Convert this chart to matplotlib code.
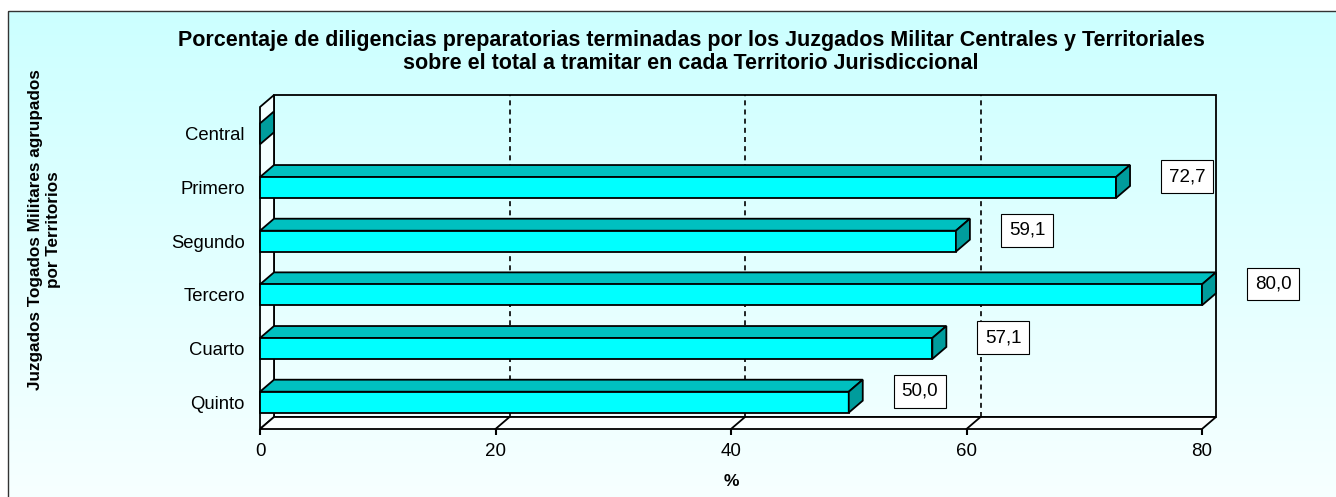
import numpy as np
import matplotlib
matplotlib.use("Agg")
import matplotlib.pyplot as plt
from matplotlib.patches import Polygon, Rectangle

plt.rcParams['font.family'] = ['Liberation Sans', 'DejaVu Sans']

categories = ["Central", "Primero", "Segundo", "Tercero", "Cuarto", "Quinto"]
values = [0.0, 72.7, 59.1, 80.0, 57.1, 50.0]
labels = [None, "72,7", "59,1", "80,0", "57,1", "50,0"]
xticks = [0, 20, 40, 60, 80]

title = ("Porcentaje de diligencias preparatorias terminadas por los Juzgados Militar Centrales y Territoriales\n"
         "sobre el total a tramitar en cada Territorio Jurisdiccional")
ylabel = "Juzgados Togados Militares agrupados\npor Territorios"
xlabel = "%"

W, H = 1336, 497
fig = plt.figure(figsize=(W / 100, H / 100), dpi=100)
fig.patch.set_facecolor('white')

# background panel with gradient and frame
bg = fig.add_axes([0, 0, 1, 1], zorder=-5)
bg.axis('off')
grad = np.linspace(0, 1, 256).reshape(-1, 1)
c_top = np.array([0.80, 1.0, 1.0])
c_bot = np.array([0.97, 1.0, 1.0])
img = c_top[None, None, :] * (1 - grad[:, :, None]) + c_bot[None, None, :] * grad[:, :, None]
bg.imshow(img, extent=[8, W + 5, H + 5, 11], aspect='auto', interpolation='bilinear')
bg.add_patch(Rectangle((8, 11), W, H, fill=False, edgecolor='#333333', lw=1.0))
bg.set_xlim(0, W)
bg.set_ylim(H, 0)

# main axes: front plane, 0..80 horizontally, categories vertically
x0, x1 = 260, 1202
ytop, ybot = 107, 429
ax = fig.add_axes([x0 / W, 1 - ybot / H, (x1 - x0) / W, (ybot - ytop) / H])
ax.set_xlim(0, 80)
n = len(categories)
ax.set_ylim(n - 0.5, -0.5)
ax.patch.set_visible(False)
for s in ax.spines.values():
    s.set_visible(False)

# depth offsets in data units
sx = (x1 - x0) / 80.0
sy = (ybot - ytop) / n
DX = 14 / sx
DY = 12 / sy  # upward => subtract in inverted axis

lw = 1.3
edge = 'black'
ylo, yhi = n - 0.5, -0.5

# back wall
ax.add_patch(Polygon([(DX, ylo - DY), (80 + DX, ylo - DY), (80 + DX, yhi - DY), (DX, yhi - DY)],
                     closed=True, fill=False, edgecolor=edge, lw=lw, clip_on=False, zorder=1))
# left wall
ax.add_patch(Polygon([(0, ylo), (DX, ylo - DY), (DX, yhi - DY), (0, yhi)],
                     closed=True, facecolor='#F4FFFF', edgecolor=edge, lw=lw, clip_on=False, zorder=1))
# floor
ax.add_patch(Polygon([(0, ylo), (80, ylo), (80 + DX, ylo - DY), (DX, ylo - DY)],
                     closed=True, facecolor='#FBFFFF', edgecolor=edge, lw=lw, clip_on=False, zorder=1))
# gridlines on back wall and floor
for t in xticks[1:-1]:
    ax.plot([t + DX, t + DX], [ylo - DY, yhi - DY], color='black', lw=1.2, ls=(0, (3, 2.5)),
            clip_on=False, zorder=1.5)
    ax.plot([t, t + DX], [ylo, ylo - DY], color='black', lw=lw, clip_on=False, zorder=1.5)

# bars
h = 0.39
front_c = '#00FFFF'
top_c = '#00C0C0'
side_c = '#009C9C'
lab_off = 57 / sx
for i, (cat, v) in enumerate(zip(categories, values)):
    yt, yb = i - h / 2, i + h / 2
    if v > 0:
        ax.add_patch(Polygon([(0, yt), (v, yt), (v + DX, yt - DY), (DX, yt - DY)], closed=True,
                             facecolor=top_c, edgecolor=edge, lw=lw, clip_on=False, zorder=3))
        ax.add_patch(Rectangle((0, yt), v, h, facecolor=front_c, edgecolor=edge, lw=lw,
                               clip_on=False, zorder=3))
    ax.add_patch(Polygon([(v, yt), (v, yb), (v + DX, yb - DY), (v + DX, yt - DY)], closed=True,
                         facecolor=side_c, edgecolor=edge, lw=lw, clip_on=False, zorder=3))
    if labels[i]:
        ax.text(v + DX + lab_off, i - 0.2, labels[i], ha='center', va='center', fontsize=13.5,
                bbox=dict(boxstyle='square,pad=0.42', facecolor='white', edgecolor='black', lw=0.8),
                clip_on=False, zorder=4)

ax.set_xticks(xticks)
ax.set_xticklabels([str(t) for t in xticks], fontsize=13.5)
ax.tick_params(axis='x', direction='out', length=4, width=1.5, pad=6)
ax.set_yticks(range(n))
ax.set_yticklabels(categories, fontsize=13.3)
ax.tick_params(axis='y', length=0, pad=11)
ax.set_xlabel(xlabel, fontsize=12.5, fontweight='bold', labelpad=10)

fig.text(691 / W, 1 - 52 / H, title, ha='center', va='center', fontsize=15.5,
         fontweight='bold', multialignment='center', linespacing=1.1)
fig.text(44.5 / W, 1 - 230 / H, ylabel, ha='center', va='center', rotation=90,
         fontsize=12.3, fontweight='bold', multialignment='center', linespacing=1.2)

fig.savefig('out.png', dpi=100)
